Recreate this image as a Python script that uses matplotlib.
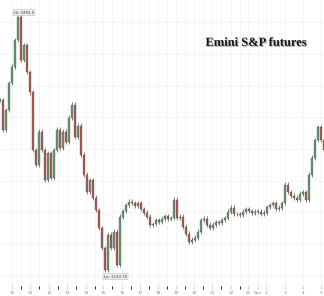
import matplotlib
matplotlib.use("Agg")
import matplotlib.pyplot as plt
import matplotlib.patheffects as pe
from matplotlib.patches import Rectangle

# closes, one bar per step
closes = [3341.0, 3322.25, 3334.75, 3351.75, 3362.0, 3379.0, 3393.5, 3366.25, 3375.75, 3358.75,
          3346.0, 3309.5, 3300.0, 3321.0, 3309.5, 3290.5, 3307.5, 3291.75, 3309.5, 3322.25,
          3310.75, 3321.0, 3314.5, 3329.75, 3338.0, 3317.75, 3324.75, 3306.5, 3293.75, 3283.0,
          3290.5, 3279.25, 3271.5, 3260.25, 3247.5, 3233.75, 3256.0, 3247.5, 3257.75, 3237.0,
          3267.25, 3271.0, 3274.75, 3276.75, 3276.0, 3274.25, 3276.0, 3272.25, 3269.75, 3267.25,
          3262.25, 3262.75, 3265.25, 3264.0, 3266.0, 3267.75, 3266.0, 3266.5, 3278.0, 3266.5,
          3267.25, 3261.0, 3256.5, 3251.5, 3252.75, 3254.0, 3257.75, 3265.25, 3266.0, 3262.25,
          3260.25, 3262.25, 3264.0, 3263.5, 3265.25, 3266.5, 3270.5, 3273.0, 3269.0, 3269.0,
          3268.5, 3270.5, 3272.25, 3271.0, 3269.75, 3270.5, 3270.5, 3269.0, 3269.75, 3273.5,
          3274.75, 3276.0, 3272.25, 3273.0, 3276.0, 3287.5, 3283.0, 3280.5, 3279.25, 3278.0,
          3281.75, 3283.0, 3278.0, 3293.75, 3304.5, 3315.75, 3324.0, 3315.75, 3309.5]

tick_pos = [4, 10, 16.3, 22.3, 28.7, 34.3, 40.7, 46.7, 52.7, 58.7, 64.7, 70.7, 77, 82.7, 86, 88.7, 95, 101, 107]
tick_labels = ["10", "11", "12", "13", "14", "15", "16", "17", "18", "19",
               "20", "21", "22", "23", "Nov", "2", "3", "4", "5"]

hi_val = 3393.5
lo_val = 3233.75

fig = plt.figure(figsize=(3.24, 2.96), dpi=100)
ax = fig.add_axes([0, 0.034, 1, 0.966])

up_col = "#6a9a6e"
dn_col = "#b05a57"
prev = closes[0]
for i, c in enumerate(closes):
    o = prev
    col = up_col if c >= o else dn_col
    ax.vlines(i, min(o, c) - 1.5, max(o, c) + 1.5, color="#3a3a3a", lw=0.45, zorder=3)
    ax.add_patch(Rectangle((i - 0.22, min(o, c)), 0.44, max(abs(c - o), 0.3),
                           facecolor=col, edgecolor="#3a3a3a", lw=0.2, zorder=4))
    prev = c

ax.set_xlim(0, 108)
ax.set_ylim(3223.6, 3404.2)

ax.set_xticks(tick_pos)
ax.set_xticklabels(tick_labels, fontsize=3.2, color="#888888")
ax.set_xticks([p + 3 for p in tick_pos[:13]], minor=True)
ax.set_yticks(range(3230, 3405, 20))
ax.set_yticklabels([])
ax.tick_params(axis="both", length=0, pad=2)
ax.tick_params(axis="x", which="major", length=2, color="#cccccc")
ax.grid(True, which="both", color="#f0f0f0", lw=0.5)
ax.set_axisbelow(True)
for s in ax.spines.values():
    s.set_visible(False)
ax.axhline(3223.6, color="#dddddd", lw=0.6)

box = dict(boxstyle="round,pad=0.25", fc="#eeeeee", ec="#aaaaaa", lw=0.3)
ax.text(8, hi_val + 1.5, "Hi: %.1f" % hi_val, fontsize=2.8, color="#333333", ha="center",
        va="bottom", bbox=box, zorder=6)
ax.text(38.5, lo_val - 3, "Lo: %.2f" % lo_val, fontsize=2.8, color="#333333", ha="center",
        va="top", bbox=box, zorder=6)

ax.text(0.79, 0.85, "Emini S&P futures", transform=ax.transAxes, ha="center", va="center",
        fontsize=9, fontweight="bold", family="Liberation Serif", color="#111111",
        path_effects=[pe.withSimplePatchShadow(offset=(0.8, -0.8), shadow_rgbFace="#888888", alpha=0.6)])

fig.savefig("out.png", dpi=100, facecolor="white")
